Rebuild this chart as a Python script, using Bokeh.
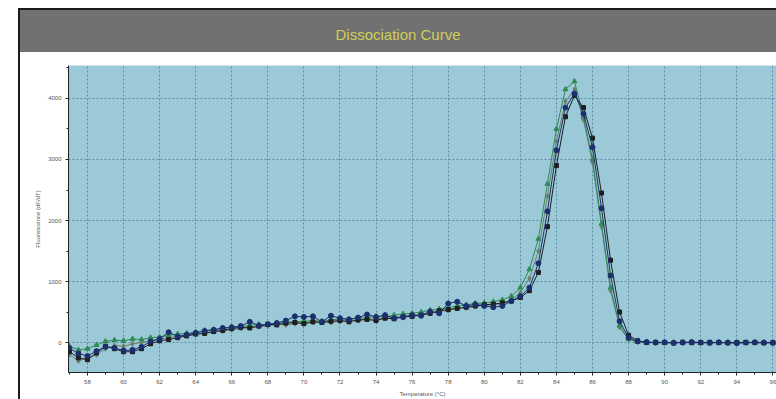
from bokeh.plotting import figure
from bokeh.models import Div, Range1d, SingleIntervalTicker
from bokeh.layouts import column, row
from bokeh.embed import file_html
from bokeh.resources import INLINE

temperature = [
    57.0, 57.5, 58.0, 58.5, 59.0, 59.5, 60.0, 60.5,
    61.0, 61.5, 62.0, 62.5, 63.0, 63.5, 64.0, 64.5,
    65.0, 65.5, 66.0, 66.5, 67.0, 67.5, 68.0, 68.5,
    69.0, 69.5, 70.0, 70.5, 71.0, 71.5, 72.0, 72.5,
    73.0, 73.5, 74.0, 74.5, 75.0, 75.5, 76.0, 76.5,
    77.0, 77.5, 78.0, 78.5, 79.0, 79.5, 80.0, 80.5,
    81.0, 81.5, 82.0, 82.5, 83.0, 83.5, 84.0, 84.5,
    85.0, 85.5, 86.0, 86.5, 87.0, 87.5, 88.0, 88.5,
    89.0, 89.5, 90.0, 90.5, 91.0, 91.5, 92.0, 92.5,
    93.0, 93.5, 94.0, 94.5, 95.0, 95.5, 96.0,
]

sample_navy = [
    -90, -180, -220, -140, -70, -90, -130, -120,
    -70, 20, 60, 170, 100, 130, 160, 190,
    210, 240, 250, 270, 340, 280, 300, 320,
    360, 430, 420, 430, 340, 440, 400, 380,
    410, 460, 420, 450, 400, 420, 450, 440,
    510, 480, 640, 670, 600, 630, 600, 580,
    600, 680, 760, 900, 1300, 2150, 3150, 3850,
    4080, 3750, 3200, 2200, 1100, 350, 80, 20,
    10, 0, 5, -5, 0, 10, 0, -5,
    5, 0, -10, 0, 5, 0, -5,
]

sample_black = [
    -150, -250, -280, -170, -60, -100, -150, -150,
    -100, -20, 30, 50, 80, 110, 140, 150,
    180, 200, 230, 250, 240, 270, 300, 290,
    320, 330, 310, 340, 330, 350, 360, 340,
    370, 380, 360, 400, 390, 420, 430, 450,
    480, 520, 540, 560, 580, 600, 620, 630,
    650, 680, 740, 850, 1150, 1900, 2900, 3700,
    4050, 3850, 3350, 2450, 1350, 500, 120, 30,
    0, 5, 0, -5, 5, 0, 0, 5,
    0, -5, 0, 5, 0, -5, 0,
]

sample_green = [
    -60, -120, -100, -40, 20, 40, 30, 60,
    50, 80, 90, 120, 140, 150, 170, 200,
    210, 230, 250, 260, 280, 300, 290, 320,
    330, 340, 350, 360, 350, 370, 390, 380,
    400, 410, 430, 420, 450, 470, 480, 500,
    530, 550, 570, 600, 620, 640, 650, 670,
    700, 760, 900, 1200, 1700, 2600, 3500, 4150,
    4280, 3700, 3000, 1950, 900, 280, 60, 10,
    5, 0, -5, 0, 5, 0, -5, 0,
    0, 5, 0, -5, 0, 5, 0,
]

sample_gray = [
    -200, -300, -250, -200, -100, -50, -60, -20,
    0, 30, 60, 80, 100, 120, 130, 160,
    180, 190, 210, 230, 250, 260, 270, 300,
    290, 310, 320, 330, 340, 330, 350, 370,
    360, 380, 390, 400, 410, 430, 440, 470,
    490, 510, 530, 560, 570, 590, 610, 620,
    640, 700, 820, 1050, 1500, 2400, 3300, 3950,
    4150, 3650, 2950, 1900, 850, 250, 50, 10,
    0, -5, 0, 5, 0, -5, 5, 0,
    -5, 0, 5, 0, -5, 0, 5,
]

FONT = "Liberation Sans"
FIG_W = 756
FIG_H = 347
HEAD_H = 42
TOP_GAP = 8
LEFT_GAP = 18

p = figure(
    width=FIG_W, height=FIG_H,
    output_backend="svg", toolbar_location=None,
    x_range=Range1d(56.95, 96.2), y_range=Range1d(-490, 4540),
    min_border_left=48, min_border_right=0, min_border_top=13, min_border_bottom=27,
    background_fill_color="#9bc9d7", border_fill_color="white",
    margin=0,
)
p.outline_line_color = None

xt = SingleIntervalTicker(interval=2, num_minor_ticks=2)
yt = SingleIntervalTicker(interval=1000, num_minor_ticks=2)
p.xaxis.ticker = xt
p.yaxis.ticker = yt
p.xgrid.ticker = xt
p.ygrid.ticker = yt
for g in (p.xgrid, p.ygrid):
    g.grid_line_color = "#5d8fa3"
    g.grid_line_dash = "2 2"
    g.grid_line_width = 1

for ax in (p.xaxis, p.yaxis):
    ax.axis_line_color = "#222222"
    ax.major_tick_line_color = "#222222"
    ax.minor_tick_line_color = "#222222"
    ax.major_tick_out = 3
    ax.major_tick_in = 0
    ax.minor_tick_out = 2
    ax.minor_tick_in = 0
    ax.major_label_text_font = FONT
    ax.major_label_text_font_size = "6px"
    ax.major_label_text_color = "#555555"
    ax.axis_label_text_font = FONT
    ax.axis_label_text_font_size = "6px"
    ax.axis_label_text_font_style = "normal"
    ax.axis_label_text_color = "#555555"
    ax.major_label_standoff = 4
    ax.axis_label_standoff = 4

p.xaxis.axis_label = "Temperature (°C)"
p.yaxis.axis_label = "Fluorescence (dF/dT)"

series = [
    (sample_gray, "#6f7f6a", "diamond", 5),
    (sample_green, "#2f8a55", "triangle", 5),
    (sample_black, "#1e1e1e", "square", 4),
    (sample_navy, "#1c2f6e", "circle", 5),
]
for ys, col, mk, sz in series:
    p.line(temperature, ys, line_color=col, line_width=1)
    p.scatter(temperature, ys, marker=mk, size=sz, fill_color=col, line_color=col)

top_gap = Div(text="", width=FIG_W, height=TOP_GAP, margin=0,
              styles={"background-color": "white"})
top_bar = Div(text="", width=FIG_W, height=2, margin=0,
              styles={"background-color": "#1a1a1a"})
header = Div(
    text="Dissociation Curve",
    width=FIG_W, height=HEAD_H, margin=0,
    styles={
        "background-color": "#717171",
        "color": "#cfcf55",
        "font-family": FONT,
        "font-size": "15px",
        "text-align": "center",
        "line-height": "50px",
    },
)
full_h = TOP_GAP + 2 + HEAD_H + FIG_H
gap = Div(text="", width=LEFT_GAP, height=full_h, margin=0,
          styles={"background-color": "white"})
left_col = column(
    Div(text="", width=2, height=TOP_GAP, margin=0, styles={"background-color": "white"}),
    Div(text="", width=2, height=full_h - TOP_GAP, margin=0, styles={"background-color": "#1a1a1a"}),
    spacing=0, margin=0,
)

layout = row(gap, left_col, column(top_gap, top_bar, header, p, spacing=0, margin=0),
             spacing=0, margin=0)

open("out.html", "w").write(file_html(layout, INLINE))
